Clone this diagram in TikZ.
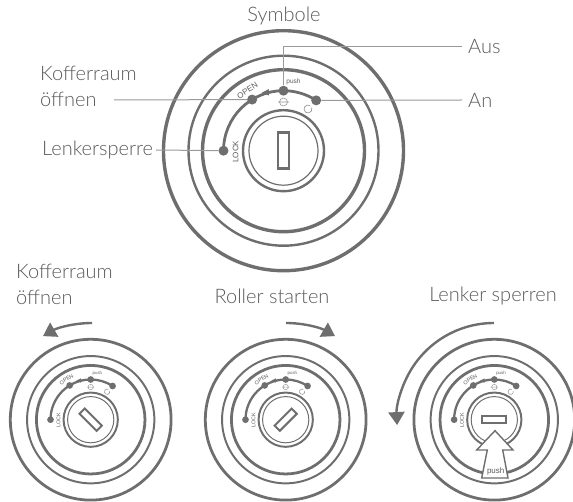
\documentclass[tikz,border=0pt]{standalone}
\usepackage{fontspec}
\setmainfont{Lato Light}
\newfontfamily\tagfont{Liberation Sans}
\usetikzlibrary{arrows.meta, positioning}
\definecolor{knobgray}{HTML}{6E6E6E}
\definecolor{textgray}{HTML}{5A5A5A}
\definecolor{leadgray}{HTML}{9A9A9A}
\newcommand{\knob}[5]{%
  \begin{scope}[shift={(#2,#3)}, scale=#4, transform shape]
    \pgfmathsetmacro{\knobscale}{sqrt(#4)}
    \draw[line width=\knobscale*3.4pt] (0,0) circle (120);
    \draw[line width=\knobscale*2.4pt] (0,0) circle (95);
    \draw[line width=\knobscale*3.4pt] (0,0) circle (81);
    \draw[line width=\knobscale*2.4pt] (0,0) circle (40.5);
    \draw[line width=\knobscale*1.2pt] (0,0) circle (34.5);
    \draw[line width=\knobscale*2.8pt] (180:60) arc (180:57:60);
    \fill (106:60) ++(-5,0.5) -- ++(7,3.5) -- ++(0,-6.5) -- cycle;
    \node[slot, rotate=#5, line width=\knobscale*2.4pt] (#1slot) at (0,0) {};
    \node[dot] (#1lock) at (180:60) {};
    \node[dot] (#1open) at (121.5:60) {};
    \node[dot] (#1push) at (90:60) {};
    \node[dot] (#1on) at (57:60) {};
    \node[tag, rotate=90] (#1locktag) at (-48,-1) {LOCK};
    \node[tag, rotate=33] (#1opentag) at (-36,60) {OPEN};
    \node[tag, font=\tagfont\fontsize{6.5}{6.5}\selectfont] (#1pushtag) at (10,69) {push};
    \draw[line width=\knobscale*0.6pt, leadgray] (0,48.7) circle (4) (-5.5,48.7) -- (5.5,48.7);
    \draw[line width=\knobscale*0.7pt, leadgray] (24.5,41.7) ++(60:4) arc (60:380:4);
  \end{scope}}

\begin{document}
\begin{tikzpicture}[x=1pt, y=1pt, >=Stealth, knobgray,
    caption/.style={text=textgray, font=\fontsize{20}{26}\selectfont, inner sep=0pt, align=left},
    tag/.style={text=textgray, inner sep=0pt, font=\tagfont\fontsize{8}{8}\selectfont},
    dot/.style={circle, fill=knobgray, inner sep=0pt, minimum size=10pt},
    slot/.style={draw=knobgray, rectangle, inner sep=0pt, minimum width=11pt, minimum height=36pt},
    lead/.style={draw=leadgray, line width=1pt},
    turn/.style={line width=2.4pt, -{Triangle[width=16pt, length=13pt]}}]
    \useasboundingbox (0,0) rectangle (573,501);

    \knob{m}{283.5}{350.3}{1}{0}
    \knob{a}{90.7}{81.3}{0.67}{45}
    \knob{b}{285.7}{81.3}{0.67}{-45}
    \knob{c}{494.3}{81.3}{0.67}{90}

    \node[caption] (symbole) at (284,485) {Symbole};
    \node[caption, anchor=west] (aus) at (468,454) {Aus};
    \node[caption, anchor=west] (an) at (468,401) {An};
    \node[caption, anchor=west] (koffer) at (40,415) {Kofferraum\\öffnen};
    \coordinate (kofferend) at (114,401);
    \node[caption, anchor=west] (lenker) at (42,351) {Lenkersperre};

    \draw[lead] (mpush) |- ([xshift=-6pt]aus.west);
    \draw[lead] (mon) -- ([xshift=-6pt]an.west);
    \draw[lead] (kofferend) -- (mopen);
    \draw[lead] ([xshift=3pt]lenker.east) -- (mlock);

    % labels of the three turns
    \node[caption, anchor=west] (koffer2) at (16,217) {Kofferraum\\öffnen};
    \node[caption] (roller) at (272,205) {Roller starten};
    \node[caption] (sperren) at (493,205) {Lenker sperren};

    \coordinate (ltop) at (92,178);
    \coordinate (mtop) at (286,178);
    \coordinate (rtop) at (494,178);
    \draw[turn] (ltop) arc (90:120:98);
    \draw[turn] (mtop) arc (90:60:98);
    \draw[turn] (rtop) arc (90:183:97);

    % push arrow on the last knob
    \draw[line width=1.4pt, fill=white] (495,70.3) -- (513,51) -- (502.7,51)
      -- (508,23) -- (481.7,23) -- (487.3,51) -- (476.7,51) -- cycle;
    \node[tag] (pushhand) at (495.7,30) {push};
\end{tikzpicture}
\end{document}
